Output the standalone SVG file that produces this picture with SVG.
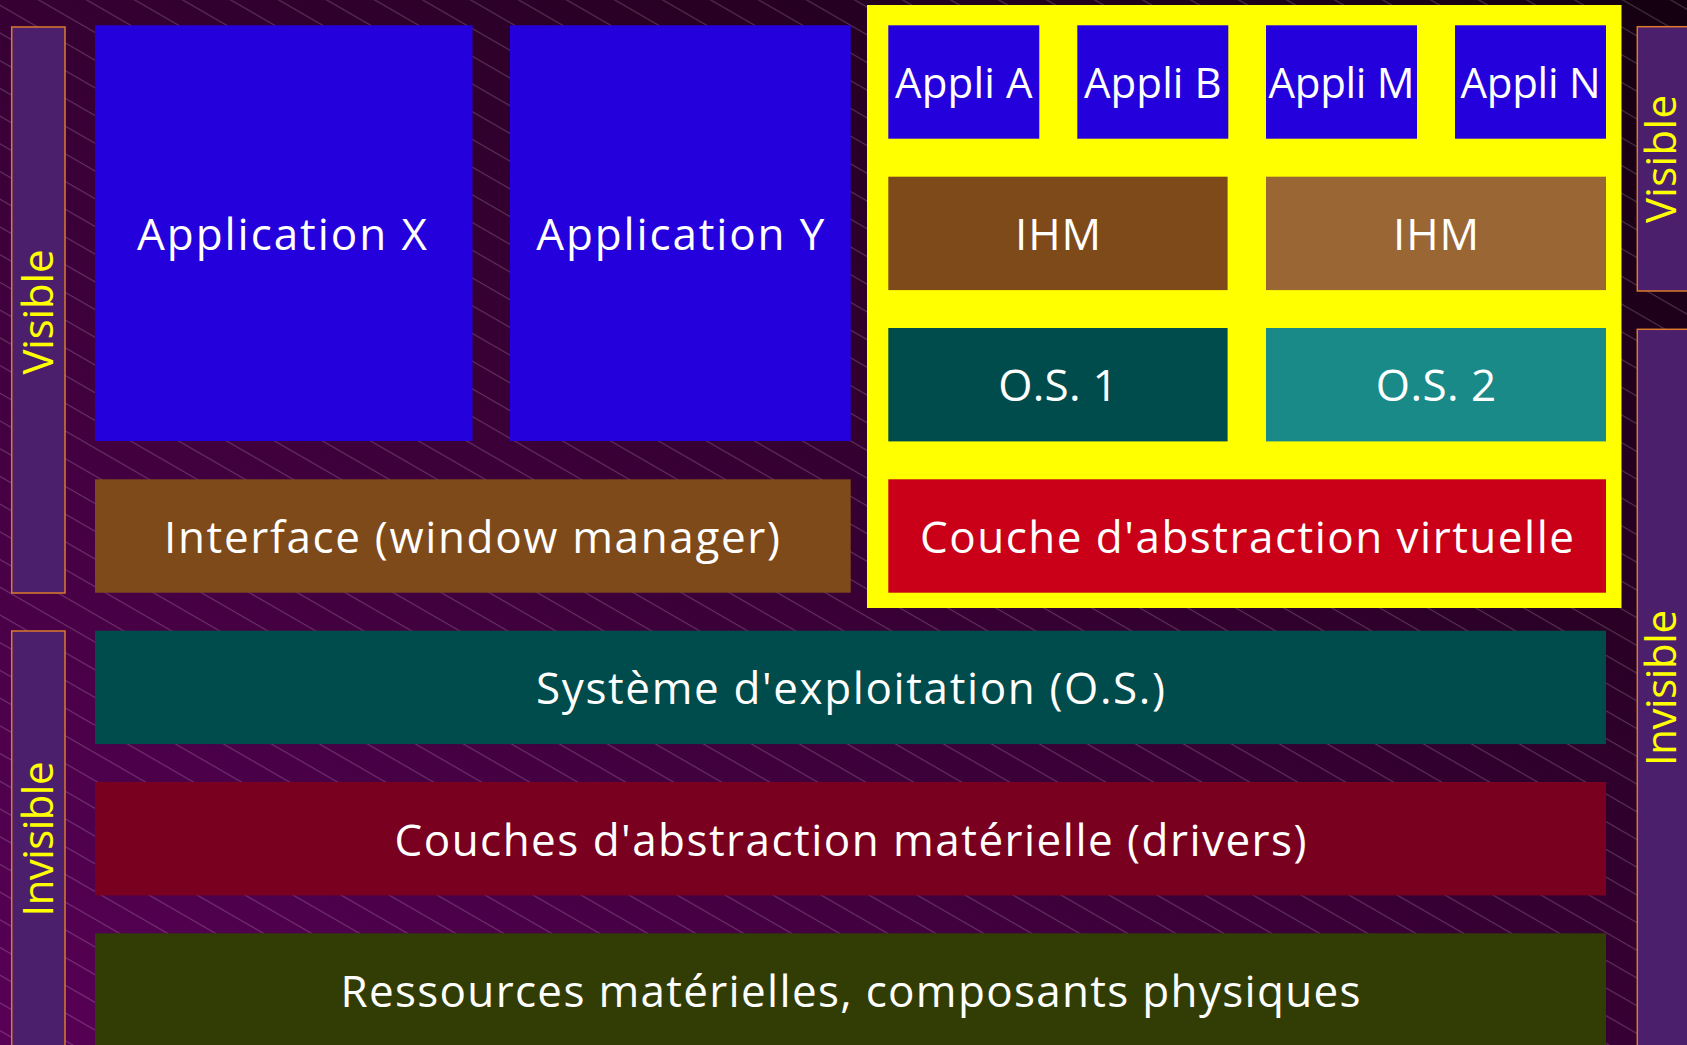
<svg xmlns="http://www.w3.org/2000/svg" width="1687" height="1045" viewBox="0 0 1687 1045">
  <defs>
    <linearGradient id="bg" x1="1" y1="0" x2="0" y2="1">
      <stop offset="0" stop-color="#140010"/>
      <stop offset="1" stop-color="#580056"/>
    </linearGradient>
    <pattern id="hatch" patternUnits="userSpaceOnUse" width="40" height="24" patternTransform="rotate(30)">
      <line x1="0" y1="4.6" x2="40" y2="4.6" stroke="#ffffff" stroke-opacity="0.22" stroke-width="1"/>
    </pattern>
  </defs>
  <style>
    .lbl { font-family: "Open Sans", "Noto Sans", sans-serif; fill: #ffffff; text-anchor: middle; }
    .big { font-size: 44px; }
    .app { font-size: 42px; }
    .side { font-family: "Open Sans", "Noto Sans", sans-serif; font-size: 42px; fill: #ffff00; text-anchor: middle; }
    .bar { fill: #4b1f6c; stroke: #dc7a2c; stroke-width: 1.5; }
    .blue { fill: #2400dc; }
    .brown { fill: #7f4a1a; }
    .brown2 { fill: #9a6633; }
    .teal { fill: #004b4b; }
    .teal2 { fill: #198a87; }
    .red { fill: #c90018; }
    .wine { fill: #7a0020; }
    .olive { fill: #313d05; }
  </style>

  <!-- background with diagonal hatching -->
  <rect x="0" y="0" width="1687" height="1045" fill="url(#bg)"/>
  <rect x="0" y="0" width="1687" height="1045" fill="url(#hatch)"/>

  <!-- side bars -->
  <g id="left-visible">
    <rect class="bar" x="11.7" y="27" width="53.3" height="566"/>
    <text class="side" transform="translate(53,312) rotate(-90)" textLength="125">Visible</text>
  </g>
  <g id="left-invisible">
    <rect class="bar" x="11.7" y="631" width="53.3" height="430"/>
    <text class="side" transform="translate(53,839) rotate(-90)" textLength="155">Invisible</text>
  </g>
  <g id="right-visible">
    <rect class="bar" x="1637.3" y="26.7" width="60" height="264.3"/>
    <text class="side" transform="translate(1676,159) rotate(-90)" textLength="128">Visible</text>
  </g>
  <g id="right-invisible">
    <rect class="bar" x="1637.3" y="329.3" width="60" height="730"/>
    <text class="side" transform="translate(1676,688) rotate(-90)" textLength="156">Invisible</text>
  </g>

  <!-- native applications -->
  <g id="application-x">
    <rect class="blue" x="95" y="25.3" width="377.5" height="415.7"/>
    <text class="lbl big" x="282" y="250" textLength="290">Application X</text>
  </g>
  <g id="application-y">
    <rect class="blue" x="510" y="25.3" width="340.7" height="415.7"/>
    <text class="lbl big" x="680.3" y="250" textLength="288">Application Y</text>
  </g>
  <g id="interface">
    <rect class="brown" x="95" y="479.3" width="755.7" height="113.4"/>
    <text class="lbl big" x="472" y="553" textLength="616">Interface (window manager)</text>
  </g>

  <!-- virtualised stack -->
  <g id="virtual-stack">
    <rect x="867" y="5" width="754.5" height="603" fill="#ffff00"/>
    <g id="appli-a">
      <rect class="blue" x="888.3" y="25.3" width="151" height="113.4"/>
      <text class="lbl app" x="963.8" y="98.3" textLength="137.7">Appli A</text>
    </g>
    <g id="appli-b">
      <rect class="blue" x="1077.3" y="25.3" width="151" height="113.4"/>
      <text class="lbl app" x="1152.8" y="98.3" textLength="137.7">Appli B</text>
    </g>
    <g id="appli-m">
      <rect class="blue" x="1266" y="25.3" width="151" height="113.4"/>
      <text class="lbl app" x="1341.5" y="98.3" textLength="146">Appli M</text>
    </g>
    <g id="appli-n">
      <rect class="blue" x="1455" y="25.3" width="151" height="113.4"/>
      <text class="lbl app" x="1530.5" y="98.3" textLength="140">Appli N</text>
    </g>
    <g id="ihm-1">
      <rect class="brown" x="888.3" y="176.7" width="339.3" height="113.4"/>
      <text class="lbl big" x="1058" y="250" textLength="86">IHM</text>
    </g>
    <g id="ihm-2">
      <rect class="brown2" x="1266" y="176.7" width="340" height="113.4"/>
      <text class="lbl big" x="1436" y="250" textLength="86">IHM</text>
    </g>
    <g id="os-1">
      <rect class="teal" x="888.3" y="328" width="339.3" height="113.4"/>
      <text class="lbl big" x="1058" y="401.2" textLength="119.4">O.S. 1</text>
    </g>
    <g id="os-2">
      <rect class="teal2" x="1266" y="328" width="340" height="113.4"/>
      <text class="lbl big" x="1436" y="401.2" textLength="120.5">O.S. 2</text>
    </g>
    <g id="virtual-layer">
      <rect class="red" x="888.3" y="479.3" width="717.7" height="113.4"/>
      <text class="lbl big" x="1247" y="553" textLength="654">Couche d'abstraction virtuelle</text>
    </g>
  </g>

  <!-- shared lower layers -->
  <g id="os">
    <rect class="teal" x="95" y="630.7" width="1511" height="113.4"/>
    <text class="lbl big" x="850.5" y="704.4" textLength="629">Système d'exploitation (O.S.)</text>
  </g>
  <g id="drivers">
    <rect class="wine" x="95" y="782" width="1511" height="113.4"/>
    <text class="lbl big" x="850.5" y="855.7" textLength="912">Couches d'abstraction matérielle (drivers)</text>
  </g>
  <g id="hardware">
    <rect class="olive" x="95" y="933.3" width="1511" height="113.4"/>
    <text class="lbl big" x="850.5" y="1007" textLength="1020">Ressources matérielles, composants physiques</text>
  </g>
</svg>
